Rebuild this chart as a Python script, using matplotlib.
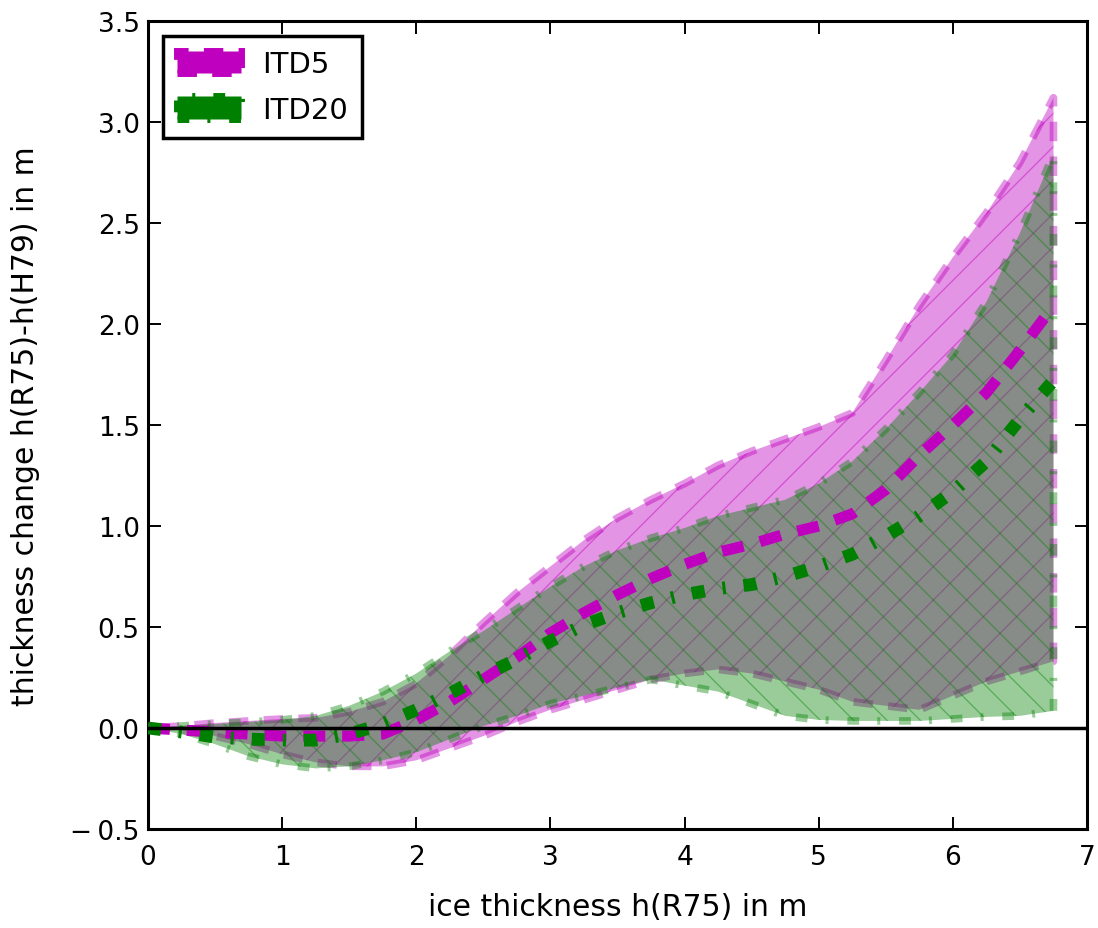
import matplotlib
matplotlib.use("Agg")
import matplotlib.pyplot as plt
from matplotlib.patches import Patch

plt.rcParams['font.family'] = ['DejaVu Sans']
plt.rcParams['lines.scale_dashes'] = False
plt.rcParams['hatch.linewidth'] = 1.0

# ice thickness h(R75) in m
x = [0.0, 0.25, 0.5, 0.75, 1.0, 1.25, 1.5, 1.75, 2.0, 2.25, 2.5, 2.75, 3.0, 3.25,
     3.5, 3.75, 4.0, 4.25, 4.5, 4.75, 5.0, 5.25, 5.5, 5.75, 6.0, 6.25, 6.5, 6.75]

# ITD5
itd5_mean = [0.0, -0.01, -0.02, -0.03, -0.04, -0.04, -0.04, -0.03, 0.04, 0.13, 0.24, 0.35,
             0.47, 0.57, 0.66, 0.74, 0.81, 0.87, 0.91, 0.96, 1.00, 1.06, 1.18, 1.35,
             1.50, 1.66, 1.87, 2.09]
itd5_hi = [0.0, 0.01, 0.025, 0.035, 0.045, 0.05, 0.08, 0.13, 0.22, 0.36, 0.52, 0.67,
           0.80, 0.93, 1.04, 1.13, 1.21, 1.30, 1.37, 1.43, 1.49, 1.56, 1.82, 2.09,
           2.33, 2.55, 2.80, 3.12]
itd5_lo = [0.0, -0.01, -0.04, -0.08, -0.13, -0.17, -0.19, -0.19, -0.16, -0.10, -0.04, 0.03,
           0.09, 0.14, 0.19, 0.24, 0.27, 0.29, 0.27, 0.23, 0.19, 0.13, 0.11, 0.09,
           0.16, 0.23, 0.28, 0.33]

# ITD20
itd20_mean = [0.0, -0.02, -0.045, -0.055, -0.06, -0.06, -0.03, 0.02, 0.09, 0.17, 0.26, 0.34,
              0.43, 0.51, 0.57, 0.62, 0.66, 0.69, 0.71, 0.75, 0.80, 0.86, 0.95, 1.05,
              1.17, 1.32, 1.53, 1.72]
itd20_hi = [0.0, 0.01, 0.02, 0.03, 0.04, 0.06, 0.11, 0.18, 0.27, 0.38, 0.48, 0.59,
            0.70, 0.80, 0.88, 0.94, 0.99, 1.05, 1.09, 1.13, 1.21, 1.32, 1.48, 1.66,
            1.85, 2.11, 2.45, 2.84]
itd20_lo = [0.0, -0.03, -0.08, -0.14, -0.18, -0.20, -0.19, -0.16, -0.12, -0.055, 0.01, 0.06,
            0.12, 0.16, 0.20, 0.24, 0.21, 0.18, 0.12, 0.06, 0.04, 0.035, 0.035, 0.035,
            0.045, 0.055, 0.06, 0.085]

labels = ["ITD5", "ITD20"]
xticks = [0, 1, 2, 3, 4, 5, 6, 7]
yticks = [-0.5, 0.0, 0.5, 1.0, 1.5, 2.0, 2.5, 3.0, 3.5]
yticklabels = ['\u2212\u20090.5', '0.0', '0.5', '1.0', '1.5', '2.0', '2.5', '3.0', '3.5']

fig = plt.figure(figsize=(10.98, 9.29), dpi=100)
fig.patch.set_facecolor('white')
ax = fig.add_axes([148/1098, 1 - 830/929, (1087-148)/1098, (830-22)/929])

dash_m = (0, (14, 11))
dashdot_g = (0, (8.5, 13, 2.2, 13.5))

ax.fill_between(x, itd5_lo, itd5_hi, facecolor='m', edgecolor='m', alpha=0.42,
                hatch='/', linewidth=5.5, linestyle=dash_m, zorder=2)
ax.fill_between(x, itd20_lo, itd20_hi, facecolor='g', edgecolor='g', alpha=0.4,
                hatch='\\', linewidth=5.5, linestyle=dashdot_g, zorder=3)
ax.plot(x, itd5_mean, color='m', linewidth=8, linestyle=(0, (15.8, 12.2)), zorder=4)
ax.plot(x, itd20_mean, color='g', linewidth=9.2, linestyle=(0, (9.4, 13, 2.2, 13)), zorder=5)
ax.axhline(0, color='k', linewidth=2.5, zorder=6)

ax.set_xlim(0, 7)
ax.set_ylim(-0.5, 3.5)
ax.set_xticks(xticks)
ax.set_yticks(yticks)
ax.set_yticklabels(yticklabels)
ax.tick_params(direction='in', top=True, right=True, length=9, width=1.4,
               labelsize=19, pad=6)
ax.tick_params(axis='x', pad=11)
for s in ax.spines.values():
    s.set_linewidth(2.2)
ax.set_xlabel('ice thickness h(R75) in m', fontsize=21.5, labelpad=16)
ax.set_ylabel('thickness change h(R75)-h(H79) in m', fontsize=21.5, labelpad=22)

handles = [Patch(facecolor='m', edgecolor='m', linewidth=5, linestyle=dash_m),
           Patch(facecolor='g', edgecolor='g', linewidth=5, linestyle=dashdot_g)]
leg = ax.legend(handles, labels, loc='upper left', fontsize=21, fancybox=False,
                framealpha=1, edgecolor='k', handlelength=2.2, handleheight=0.8,
                borderaxespad=0.5, handletextpad=0.7, borderpad=0.5, labelspacing=0.6)
leg.get_frame().set_linewidth(2.5)
leg.set_zorder(10)

fig.savefig('out.png', dpi=100, facecolor='white')
